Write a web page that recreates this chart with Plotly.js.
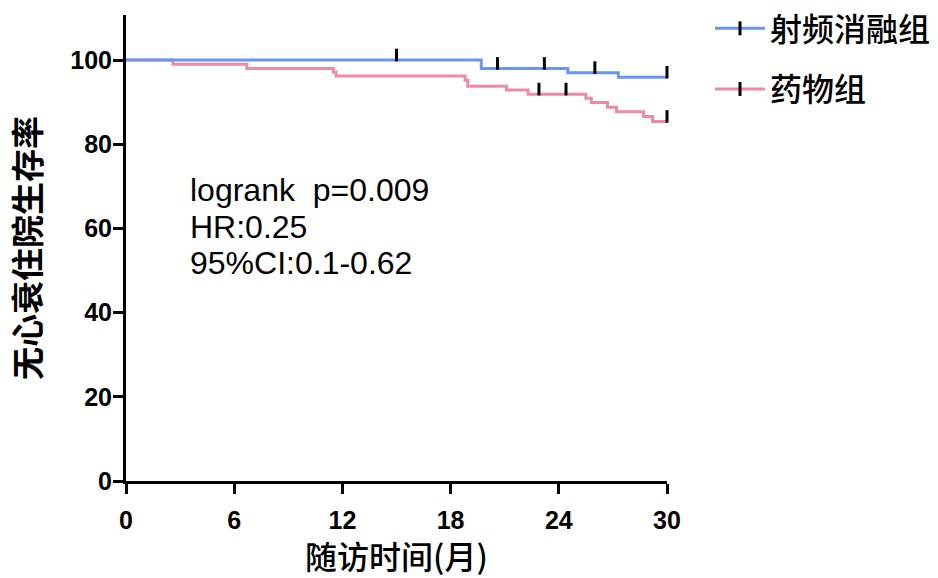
<!DOCTYPE html>
<html>
<head>
<meta charset="utf-8">
<script src="https://cdn.plot.ly/plotly-3.0.1.min.js"></script>
<style>html,body{margin:0;padding:0;background:#fff;}</style>
</head>
<body>
<div id="chart" style="width:938px;height:578px;"></div>
<script>
// ---- data ----
const groupNames = ['射频消融组', '药物组'];
const ablationTimes = [0, 19.7, 24.5, 27.3, 30];
const ablationSurv = [100, 98.0, 97.0, 95.9, 95.9];
const ablationCensor = [15.0, 20.6, 23.2, 26.0, 30];
const drugTimes = [0, 2.6, 6.7, 11.5, 11.65, 18.8, 18.95, 21.1, 22.3, 25.5, 25.8, 26.7, 27.2, 28.7, 29.2, 30];
const drugSurv = [100, 99.0, 98.0, 97.1, 96.2, 95.2, 93.8, 92.9, 91.9, 90.9, 89.9, 88.8, 87.7, 86.6, 85.4, 85.4];
const drugCensor = [22.9, 24.4, 30];
const xTicks = [0, 6, 12, 18, 24, 30];
const yTicks = [0, 20, 40, 60, 80, 100];
const statLines = ['logrank\u00a0\u00a0p=0.009', 'HR:0.25', '95%CI:0.1-0.62'];

// ---- style ----
const colors = ['#6A95F2', '#F08AA3'];
const censorLift = 1.2; // censor ticks sit on top of the curve

function survAt(times, surv, t) {
  let s = surv[0];
  for (let i = 0; i < times.length; i++) if (times[i] <= t) s = surv[i];
  return s;
}

function curve(times, surv, name, color) {
  return {
    x: times, y: surv, name: name, type: 'scatter', mode: 'lines',
    line: {shape: 'hv', color: color, width: 3},
    showlegend: false, legendgroup: name, cliponaxis: false, hoverinfo: 'skip'
  };
}
function censor(times, surv, cens, name) {
  return {
    x: cens, y: cens.map(t => survAt(times, surv, t) + censorLift),
    type: 'scatter', mode: 'markers', showlegend: false, legendgroup: name,
    marker: {symbol: 'line-ns', size: 9, color: '#000', line: {color: '#000', width: 3}},
    cliponaxis: false, hoverinfo: 'skip'
  };
}
function legendEntry(name, color) {
  return {
    x: [null], y: [null], name: name, type: 'scatter', mode: 'lines+markers',
    line: {color: color, width: 3},
    marker: {symbol: 'line-ns', size: 10, color: '#000', line: {color: '#000', width: 3}},
    legendgroup: name, showlegend: true
  };
}

const data = [
  legendEntry(groupNames[0], colors[0]),
  legendEntry(groupNames[1], colors[1]),
  curve(drugTimes, drugSurv, groupNames[1], colors[1]),
  curve(ablationTimes, ablationSurv, groupNames[0], colors[0]),
  censor(drugTimes, drugSurv, drugCensor, groupNames[1]),
  censor(ablationTimes, ablationSurv, ablationCensor, groupNames[0])
];

const tickFont = {family: 'Liberation Sans, Arial, sans-serif', size: 25, color: '#000', weight: 'bold'};
const cjk = 'Noto Sans CJK SC, Liberation Sans, sans-serif';
const statFont = {family: 'Liberation Sans, Arial, sans-serif', size: 32, color: '#000'};
const statCenters = [190, 227, 263]; // pixel rows of the three text lines

const layout = {
  width: 938, height: 578,
  margin: {l: 126, r: 271, t: 15, b: 97, autoexpand: false},
  paper_bgcolor: '#fff', plot_bgcolor: '#fff',
  showlegend: true,
  legend: {
    x: (710 - 126) / 541, y: 1.03, xanchor: 'left', yanchor: 'top',
    traceorder: 'grouped', tracegroupgap: 16, itemwidth: 50,
    font: {family: cjk, size: 32, color: '#000', weight: 500},
    bgcolor: 'rgba(0,0,0,0)'
  },
  xaxis: {
    range: [0, 30], tickvals: xTicks, ticktext: xTicks.map(String),
    showgrid: false, zeroline: false, showline: true, linecolor: '#000', linewidth: 3,
    ticks: 'outside', ticklen: 10, tickwidth: 3, tickcolor: '#000',
    tickfont: tickFont, ticklabelstandoff: 5,
    title: {text: '随访时间(月)', font: {family: cjk, size: 32, color: '#000', weight: 500}, standoff: 20}
  },
  yaxis: {
    range: [0, 110.7], tickvals: yTicks, ticktext: yTicks.map(String),
    showgrid: false, zeroline: false, showline: true, linecolor: '#000', linewidth: 3,
    ticks: 'outside', ticklen: 10, tickwidth: 3, tickcolor: '#000',
    tickfont: tickFont, ticklabelstandoff: -4,
    title: {text: '无心衰住院生存率', font: {family: cjk, size: 33, color: '#000', weight: 'bold'}, standoff: 20}
  },
  annotations: statLines.map((t, i) => ({
    xref: 'paper', yref: 'paper', x: (188 - 126) / 541, y: (481 - statCenters[i]) / 466,
    xanchor: 'left', yanchor: 'middle', align: 'left', showarrow: false,
    text: t, font: statFont
  }))
};

Plotly.newPlot('chart', data, layout, {displayModeBar: false, staticPlot: true});
</script>
</body>
</html>
